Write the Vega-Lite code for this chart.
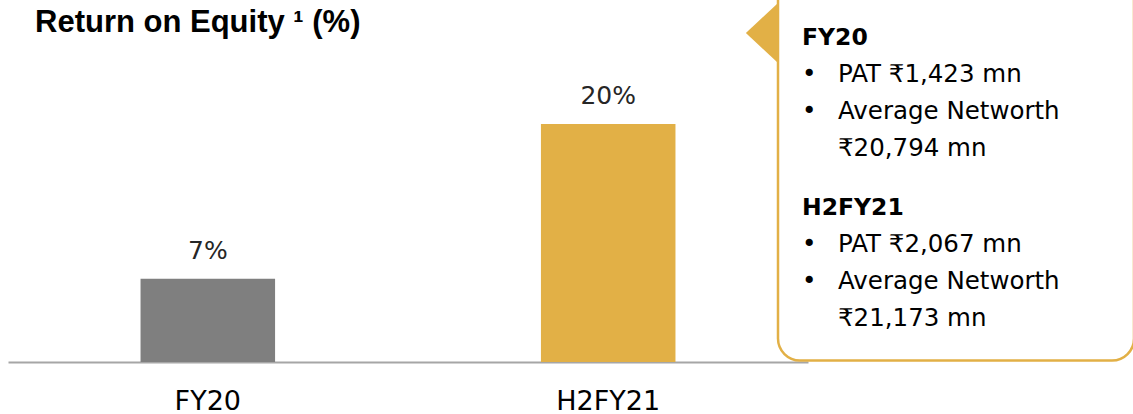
{
  "$schema": "https://vega.github.io/schema/vega-lite/v6.json",
  "width": 1133,
  "height": 362,
  "autosize": {"type": "none"},
  "padding": {"left": 0, "top": 0, "right": 0, "bottom": 52},
  "background": "white",
  "title": {
    "text": "Return on Equity ¹ (%)",
    "anchor": "start",
    "frame": "group",
    "orient": "top",
    "offset": -63,
    "baseline": "alphabetic",
    "dx": 35,
    "font": "Liberation Sans",
    "fontSize": 31,
    "fontWeight": "bold",
    "color": "#000000"
  },
  "config": {"view": {"stroke": null}},
  "layer": [
    {
      "data": {"values": [
        {"period": "FY20", "roe": 0.07},
        {"period": "H2FY21", "roe": 0.20}
      ]},
      "encoding": {
        "x": {
          "field": "period",
          "type": "nominal",
          "sort": null,
          "scale": {"domain": ["FY20", "H2FY21"], "range": [8, 808], "paddingInner": 0.664, "paddingOuter": 0.331},
          "axis": {
            "title": null,
            "ticks": false,
            "tickSize": 0,
            "domainColor": "#A6A6A6",
            "domainWidth": 2,
            "labelFont": "DejaVu Sans",
            "labelFontSize": 27,
            "labelColor": "#000000",
            "labelBaseline": "alphabetic",
            "labelPadding": 47,
            "labelAngle": 0,
            "grid": false
          }
        },
        "y": {
          "field": "roe",
          "type": "quantitative",
          "scale": {"domain": [0, 0.3042], "nice": false},
          "axis": null
        }
      },
      "layer": [
        {
          "mark": {"type": "bar"},
          "encoding": {
            "color": {
              "field": "period",
              "type": "nominal",
              "scale": {"domain": ["FY20", "H2FY21"], "range": ["#7F7F7F", "#E2B046"]},
              "legend": null
            }
          }
        },
        {
          "mark": {"type": "text", "dy": -20, "baseline": "alphabetic", "align": "center", "font": "DejaVu Sans", "fontSize": 25, "color": "#262626"},
          "encoding": {
            "text": {"field": "roe", "type": "quantitative", "format": ".0%"}
          }
        }
      ]
    },
    {
      "data": {"values": [
        {"grp": "FY20", "line": "0", "col": "a", "kind": "head", "text": "FY20"},
        {"grp": "FY20", "line": "1", "col": "a", "kind": "bullet", "text": "•"},
        {"grp": "FY20", "line": "1", "col": "b", "kind": "body", "text": "PAT ₹1,423 mn"},
        {"grp": "FY20", "line": "2", "col": "a", "kind": "bullet", "text": "•"},
        {"grp": "FY20", "line": "2", "col": "b", "kind": "body", "text": "Average Networth"},
        {"grp": "FY20", "line": "3", "col": "b", "kind": "body", "text": "₹20,794 mn"},
        {"grp": "H2FY21", "line": "0", "col": "a", "kind": "head", "text": "H2FY21"},
        {"grp": "H2FY21", "line": "1", "col": "a", "kind": "bullet", "text": "•"},
        {"grp": "H2FY21", "line": "1", "col": "b", "kind": "body", "text": "PAT ₹2,067 mn"},
        {"grp": "H2FY21", "line": "2", "col": "a", "kind": "bullet", "text": "•"},
        {"grp": "H2FY21", "line": "2", "col": "b", "kind": "body", "text": "Average Networth"},
        {"grp": "H2FY21", "line": "3", "col": "b", "kind": "body", "text": "₹21,173 mn"}
      ]},
      "layer": [
        {
          "data": {"values": [{"shape": "callout"}]},
          "mark": {"type": "rect", "clip": true, "cornerRadius": 22, "fill": "white", "fillOpacity": 0, "stroke": "#E2B046", "strokeWidth": 2.5},
          "encoding": {
            "x": {"value": 778},
            "x2": {"value": 1134},
            "y": {"value": -40},
            "y2": {"value": 360.5}
          }
        },
        {
          "data": {"values": [{"shape": "pointer"}]},
          "mark": {"type": "point", "shape": "M -1.07 0 L 0 -1 L 0 1 Z", "filled": true, "fill": "#E2B046", "stroke": null, "opacity": 1, "size": 3600},
          "encoding": {
            "x": {"value": 778},
            "y": {"value": 33}
          }
        },
        {
          "transform": [{"filter": "datum.kind === 'head'"}],
          "mark": {"type": "text", "align": "left", "baseline": "alphabetic", "font": "DejaVu Sans", "fontWeight": "bold", "fontSize": 23.5, "color": "#000000"},
          "encoding": {
            "x": {"field": "col", "type": "nominal", "scale": {"type": "point", "domain": ["a", "b"], "range": [802, 838], "padding": 0}, "axis": null},
            "y": {"field": "grp", "type": "nominal", "scale": {"type": "band", "domain": ["FY20", "H2FY21"], "range": [10, 350], "paddingInner": 0, "paddingOuter": 0}, "axis": null},
            "yOffset": {"field": "line", "type": "nominal", "scale": {"type": "point", "domain": ["0", "1", "2", "3"], "range": [35, 146], "padding": 0}},
            "text": {"field": "text", "type": "nominal"}
          }
        },
        {
          "transform": [{"filter": "datum.kind !== 'head'"}],
          "mark": {"type": "text", "align": "left", "baseline": "alphabetic", "font": "DejaVu Sans", "fontSize": 24.5, "color": "#000000"},
          "encoding": {
            "x": {"field": "col", "type": "nominal", "scale": {"type": "point", "domain": ["a", "b"], "range": [802, 838], "padding": 0}, "axis": null},
            "y": {"field": "grp", "type": "nominal", "scale": {"type": "band", "domain": ["FY20", "H2FY21"], "range": [10, 350], "paddingInner": 0, "paddingOuter": 0}, "axis": null},
            "yOffset": {"field": "line", "type": "nominal", "scale": {"type": "point", "domain": ["0", "1", "2", "3"], "range": [35, 146], "padding": 0}},
            "text": {"field": "text", "type": "nominal"}
          }
        }
      ]
    }
  ],
  "resolve": {"scale": {"x": "independent", "y": "independent", "color": "independent"}}
}
